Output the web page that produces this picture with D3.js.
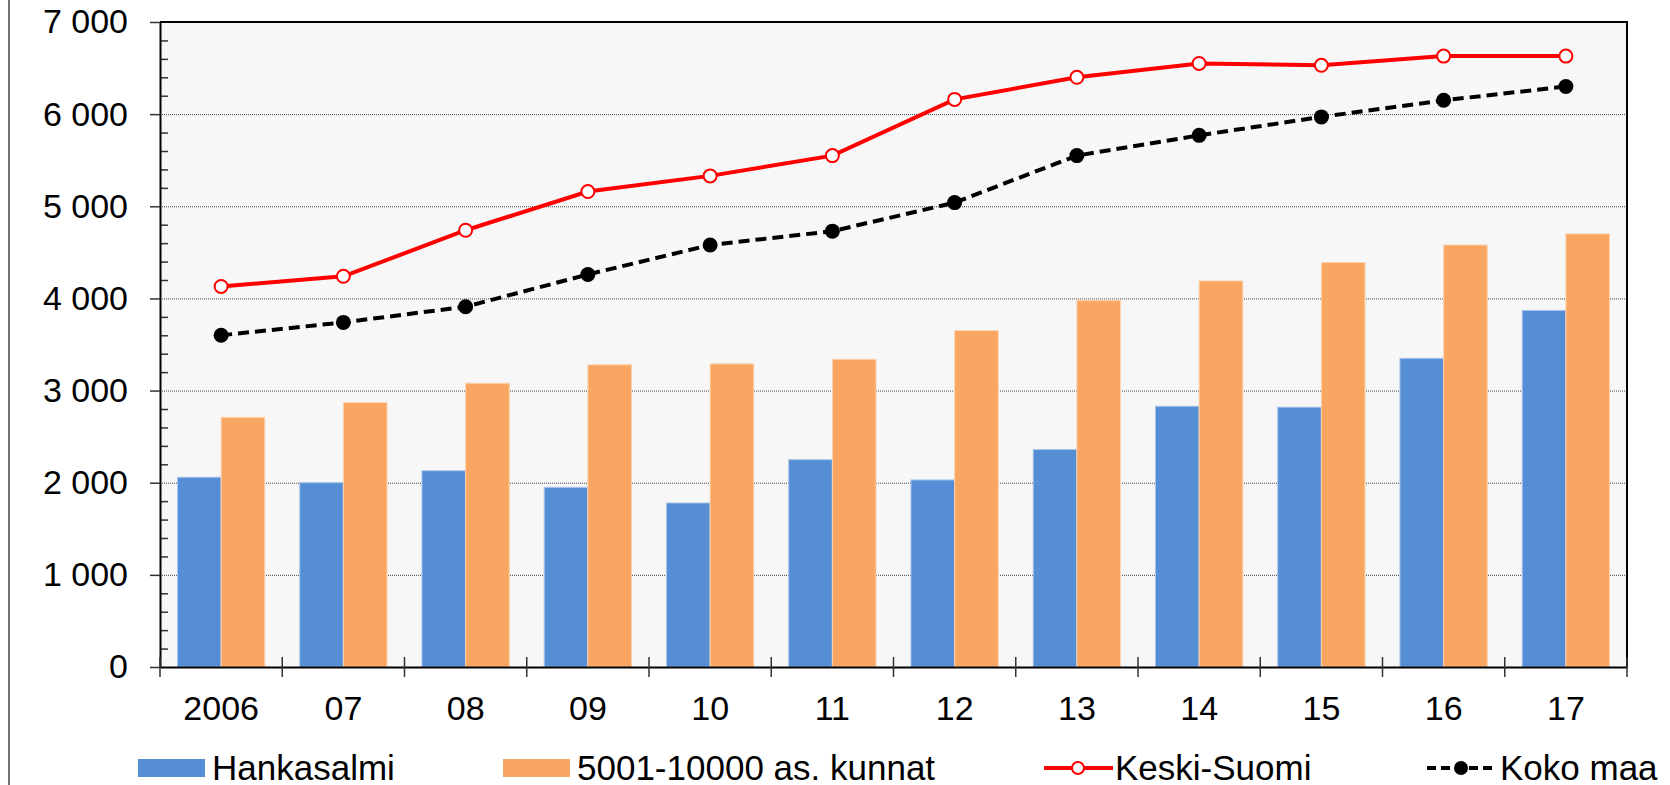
<!DOCTYPE html>
<html>
<head>
<meta charset="utf-8">
<script src="https://cdn.jsdelivr.net/npm/d3@7"></script>
<style>
  body { margin: 0; background: #fff; }
  svg { display: block; font-family: "Liberation Sans", Arial, sans-serif; }
</style>
</head>
<body>
<svg width="1670" height="785"></svg>
<script>
// years on the x axis
var years = ['2006', '07', '08', '09', '10', '11', '12', '13', '14', '15', '16', '17'];

// bars
var hankasalmi = [2060, 2000, 2130, 1950, 1780, 2250, 2030, 2360, 2830, 2820, 3350, 3870];
var kunnat     = [2710, 2870, 3080, 3280, 3290, 3340, 3650, 3980, 4190, 4390, 4580, 4700];

// lines
var keskiSuomi = [4130, 4240, 4740, 5160, 5330, 5550, 6160, 6400, 6550, 6530, 6630, 6630];
var kokoMaa    = [3600, 3740, 3910, 4260, 4580, 4730, 5040, 5550, 5770, 5970, 6150, 6300];

var yTicks = [0, 1000, 2000, 3000, 4000, 5000, 6000, 7000];
var legendNames = ['Hankasalmi', '5001-10000 as. kunnat', 'Keski-Suomi', 'Koko maa'];

var BLUE = '#558ed5', ORANGE = '#f9a663', RED = '#ff0000';

var svg = d3.select('svg');
// plot box (note: "top" is a reserved window global, so use p* names)
var pLeft = 160, pRight = 1627, pTop = 22, pBottom = 667;

var fi = d3.formatLocale({decimal: ',', thousands: ' ', grouping: [3], currency: ['', ' €']});
var fmt = fi.format(',d');

var x = d3.scaleBand().domain(years).range([pLeft, pRight]).paddingInner(0).paddingOuter(0);
var sub = d3.scaleBand().domain([0, 1]).range([0, x.bandwidth()]).paddingInner(0).paddingOuter(0.4);
var y = d3.scaleLinear().domain([0, 7000]).range([pBottom, pTop]);

// frame line on the left
svg.append('line')
    .attr('x1', 9).attr('x2', 9).attr('y1', 0).attr('y2', 785)
    .attr('stroke', '#444').attr('stroke-width', 1.5);

// plot background
svg.append('rect')
    .attr('x', pLeft).attr('y', pTop)
    .attr('width', pRight - pLeft).attr('height', pBottom - pTop)
    .attr('fill', '#f7f7f7');

// gridlines
svg.append('g')
    .attr('transform', 'translate(' + pLeft + ',0)')
    .call(d3.axisLeft(y).tickValues([1000, 2000, 3000, 4000, 5000, 6000]).tickSize(-(pRight - pLeft)).tickFormat(''))
    .call(function (g) { g.select('.domain').remove(); })
    .selectAll('line')
    .attr('stroke', '#444').attr('stroke-width', 1).attr('stroke-dasharray', '1,1');

// bars
var data = years.map(function (yr, i) { return {year: yr, vals: [hankasalmi[i], kunnat[i]]}; });
svg.append('g').selectAll('g')
    .data(data).enter().append('g')
    .attr('transform', function (d) { return 'translate(' + x(d.year) + ',0)'; })
    .selectAll('rect')
    .data(function (d) { return d.vals.map(function (v, k) { return {k: k, v: v}; }); })
    .enter().append('rect')
    .attr('x', function (d) { return sub(d.k); })
    .attr('width', sub.bandwidth())
    .attr('y', function (d) { return y(d.v); })
    .attr('height', function (d) { return y(0) - y(d.v); })
    .attr('fill', function (d) { return d.k === 0 ? BLUE : ORANGE; })
    .attr('stroke', function (d) { return d.k === 0 ? '#a9c5ea' : '#fcd3b0'; })
    .attr('stroke-width', 1);

// lines
var cx = function (d, i) { return x(years[i]) + x.bandwidth() / 2; };
var line = d3.line().x(cx).y(function (d) { return y(d); });

svg.append('path').datum(kokoMaa)
    .attr('d', line).attr('fill', 'none')
    .attr('stroke', '#000').attr('stroke-width', 4).attr('stroke-dasharray', '11,6');
svg.append('g').selectAll('circle').data(kokoMaa).enter().append('circle')
    .attr('cx', cx).attr('cy', function (d) { return y(d); })
    .attr('r', 7.5).attr('fill', '#000');

svg.append('path').datum(keskiSuomi)
    .attr('d', line).attr('fill', 'none')
    .attr('stroke', RED).attr('stroke-width', 4);
svg.append('g').selectAll('circle').data(keskiSuomi).enter().append('circle')
    .attr('cx', cx).attr('cy', function (d) { return y(d); })
    .attr('r', 6.5).attr('fill', '#fff').attr('stroke', RED).attr('stroke-width', 2);

// top and right border
svg.append('path')
    .attr('d', 'M' + pLeft + ',' + pTop + 'H' + pRight + 'V' + pBottom)
    .attr('fill', 'none').attr('stroke', '#000').attr('stroke-width', 2);

// y axis: major ticks outside, minor ticks inside
svg.append('g')
    .attr('transform', 'translate(' + pLeft + ',0)')
    .call(d3.axisRight(y).tickValues(d3.range(200, 7000, 200).filter(function (v) { return v % 1000; })).tickSize(8).tickFormat(''))
    .call(function (g) { g.select('.domain').remove(); })
    .selectAll('line').attr('stroke', '#333').attr('stroke-width', 1.5);

var yAxis = svg.append('g')
    .attr('transform', 'translate(' + pLeft + ',0)')
    .call(d3.axisLeft(y).tickValues(yTicks).tickSize(10).tickPadding(22).tickSizeOuter(0).tickFormat(fmt));
yAxis.select('.domain').attr('stroke', '#000').attr('stroke-width', 2);
yAxis.selectAll('line').attr('stroke', '#333').attr('stroke-width', 1.5);
yAxis.selectAll('text').attr('font-size', 34).attr('fill', '#000')
    .attr('font-family', '"Liberation Sans", Arial, sans-serif');

// x axis
var xAxis = svg.append('g')
    .attr('transform', 'translate(0,' + pBottom + ')')
    .call(d3.axisBottom(x).tickSize(0).tickPadding(29).tickSizeOuter(0));
xAxis.select('.domain').attr('stroke', '#000').attr('stroke-width', 2);
xAxis.selectAll('text').attr('font-size', 34).attr('fill', '#000')
    .attr('font-family', '"Liberation Sans", Arial, sans-serif');

// tick marks between categories
var bounds = years.map(function (yr) { return x(yr); }).concat([pRight]);
xAxis.selectAll('.sep').data(bounds).enter().append('line')
    .attr('class', 'sep')
    .attr('x1', function (d) { return d; }).attr('x2', function (d) { return d; })
    .attr('y1', -10).attr('y2', 10)
    .attr('stroke', '#333').attr('stroke-width', 1.5);

// legend
var legend = svg.append('g').attr('font-size', 35);
var lgY = 768;
var lgX = [138, 503, 1044, 1427];

[0, 1].forEach(function (k) {
    legend.append('rect')
        .attr('x', lgX[k]).attr('y', lgY - 9).attr('width', 67).attr('height', 18)
        .attr('fill', k === 0 ? BLUE : ORANGE);
    legend.append('text')
        .attr('x', lgX[k] + 74).attr('y', lgY + 12).text(legendNames[k]);
});

legend.append('line')
    .attr('x1', lgX[2]).attr('x2', lgX[2] + 69).attr('y1', lgY).attr('y2', lgY)
    .attr('stroke', RED).attr('stroke-width', 4);
legend.append('circle')
    .attr('cx', lgX[2] + 34).attr('cy', lgY).attr('r', 6)
    .attr('fill', '#fff').attr('stroke', RED).attr('stroke-width', 2);
legend.append('text').attr('x', lgX[2] + 71).attr('y', lgY + 12).text(legendNames[2]);

legend.append('line')
    .attr('x1', lgX[3]).attr('x2', lgX[3] + 69).attr('y1', lgY).attr('y2', lgY)
    .attr('stroke', '#000').attr('stroke-width', 4).attr('stroke-dasharray', '9,5');
legend.append('circle')
    .attr('cx', lgX[3] + 34).attr('cy', lgY).attr('r', 7).attr('fill', '#000');
legend.append('text').attr('x', lgX[3] + 73).attr('y', lgY + 12).text(legendNames[3]);
</script>
</body>
</html>
